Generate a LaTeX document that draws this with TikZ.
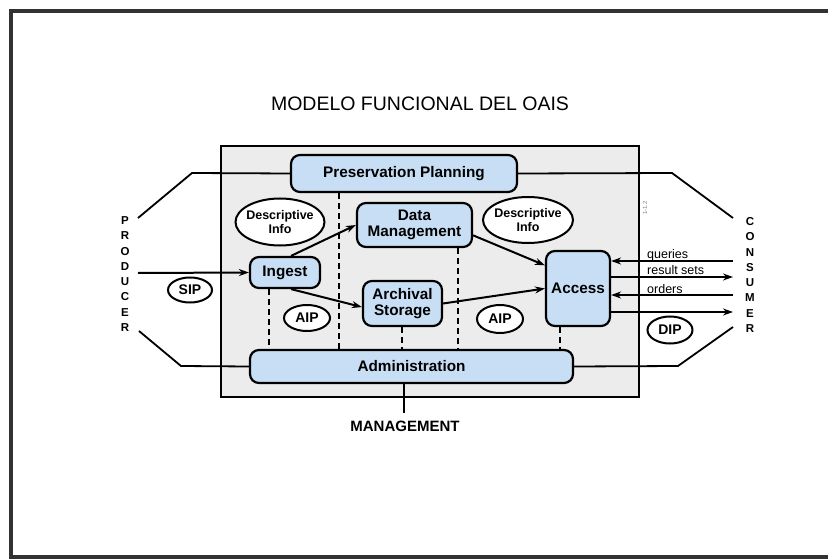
\documentclass[tikz,border=0pt]{standalone}
\usepackage{fontspec}
\setmainfont{Liberation Sans}
\usetikzlibrary{arrows.meta,calc,shapes.geometric}
\definecolor{boxblue}{RGB}{200,222,244}
\definecolor{panelgray}{RGB}{236,236,236}
\definecolor{framegray}{RGB}{50,50,50}
\tikzset{
  box/.style={draw, line width=2.2pt, rounded corners=9pt, fill=boxblue, inner sep=0pt, align=center,
              font=\fontsize{15.3}{16.5}\selectfont\bfseries},
  oval/.style={draw, ellipse, line width=2pt, fill=white, inner sep=-3pt, align=center},
  flow/.style={line width=2pt, -{Stealth[length=10pt,width=7pt]}},
  link/.style={line width=1.8pt},
  sepline/.style={line width=2.4pt, dash pattern=on 6pt off 4pt},
  letters/.style={align=center, inner sep=0pt, font=\fontsize{11.5}{15.3}\selectfont\bfseries},
  small/.style={inner sep=0pt, anchor=base west, font=\fontsize{12.5}{14}\selectfont}
}
\begin{document}
\begin{tikzpicture}[x=1pt,y=-1pt]
\useasboundingbox (0,0) rectangle (828,559);
% outer frame
\draw[framegray, line width=4pt] (828,11) -- (11,11) -- (11,557) -- (828,557);
% title
\node (title) at (420,104) {\fontsize{19.5}{21}\selectfont MODELO FUNCIONAL DEL OAIS};
% panel
\draw[fill=panelgray, line width=1.4pt] (221,146) rectangle (639,397);
\node[rotate=90, text=gray, font=\fontsize{6}{7}\selectfont, inner sep=0pt] (mark) at (645,208) {1-1.2};
% boxes
\node[box, minimum width=226pt, minimum height=37pt] (pp) at (404,173.5) {Preservation Planning};
\node[box, minimum width=115pt, minimum height=44pt] (dm) at (414.5,225) {Data\\[-1pt]Management};
\node[box, minimum width=70pt, minimum height=31pt] (ing) at (285,272.5) {Ingest};
\node[box, minimum width=79pt, minimum height=45pt] (arc) at (402.5,303.5) {Archival\\[-1pt]Storage};
\node[box, minimum width=64pt, minimum height=75pt] (acc) at (578,288.5) {Access};
\node[box, minimum width=323pt, minimum height=33pt] (adm) at (411.5,366.5) {Administration};
% ovals
\node[oval, minimum width=89pt, minimum height=47pt, font=\fontsize{12.5}{13.5}\selectfont\bfseries] (di1) at (280,222) {Descriptive\\Info};
\node[oval, minimum width=90pt, minimum height=46pt, font=\fontsize{12.5}{13.5}\selectfont\bfseries] (di2) at (528,220) {Descriptive\\Info};
\node[oval, minimum width=44pt, minimum height=25pt, font=\fontsize{14}{15}\selectfont\bfseries] (sip) at (190,290) {SIP};
\node[oval, minimum width=46pt, minimum height=26pt, font=\fontsize{14}{15}\selectfont\bfseries] (aip1) at (307,318) {AIP};
\node[oval, minimum width=46pt, minimum height=28pt, font=\fontsize{14}{15}\selectfont\bfseries] (aip2) at (500,319) {AIP};
\node[oval, minimum width=45pt, minimum height=27pt, font=\fontsize{14}{15}\selectfont\bfseries] (dip) at (670,330) {DIP};
% dashed separators
\coordinate (x1) at (339,0);
\coordinate (x2) at (269,0);
\coordinate (x3) at (402,0);
\coordinate (x4) at (458,0);
\coordinate (x5) at (560,0);
\draw[sepline] (pp.south -| x1) -- (adm.north -| x1);
\draw[sepline] (ing.south -| x2) -- (adm.north -| x2);
\draw[sepline] (arc.south -| x3) -- (adm.north -| x3);
\draw[sepline] (dm.south -| x4) -- (adm.north -| x4);
\draw[sepline] (acc.south -| x5) -- (adm.north -| x5);
% side labels
\node[letters] (prod) at (125,274) {P\\R\\O\\D\\U\\C\\E\\R};
\node[letters] (cons) at (750,275) {C\\O\\N\\S\\U\\M\\E\\R};
% producer side
\coordinate (pin) at (138,273);
\draw[flow] (pin) -- (ing.west);
\coordinate (pa) at (138,218);
\coordinate (pb) at (192,173);
\draw[link] (pa) -- (pb) -- (pp.west);
\coordinate (pc) at (139,331);
\coordinate (pd) at (181,366);
\draw[link] (pc) -- (pd) -- (adm.west);
% internal flows
\draw[flow] (ing.70) -- (dm.west);
\draw[flow] (ing.-70) -- (arc.185);
\draw[flow] (dm.-10) -- (acc.145);
\draw[flow] (arc.east) -- (acc.west);
% consumer side
\coordinate (q1) at (733,261);
\coordinate (r1) at (733,277);
\coordinate (o1) at (733,295);
\coordinate (d1) at (733,312);
\draw[flow] (q1) -- (acc.east |- q1);
\draw[flow] (acc.east |- r1) -- (r1);
\draw[flow] (o1) -- (acc.east |- o1);
\draw[flow] (acc.east |- d1) -- (d1);
\node[small] (lq) at (647,258.5) {queries};
\node[small] (lr) at (647,274.5) {result sets};
\node[small] (lo) at (647,293) {orders};
\coordinate (ca) at (672,173);
\coordinate (cb) at (733,218);
\draw[link] (pp.east) -- (ca) -- (cb);
\coordinate (cc) at (678,366);
\coordinate (cd) at (733,327);
\draw[link] (adm.east) -- (cc) -- (cd);
% management
\coordinate (mtop) at (404,413);
\draw[link] (adm.south -| mtop) -- (mtop);
\node[font=\fontsize{15}{16}\selectfont\bfseries] (mgmt) at (405,426) {MANAGEMENT};
\end{tikzpicture}
\end{document}
